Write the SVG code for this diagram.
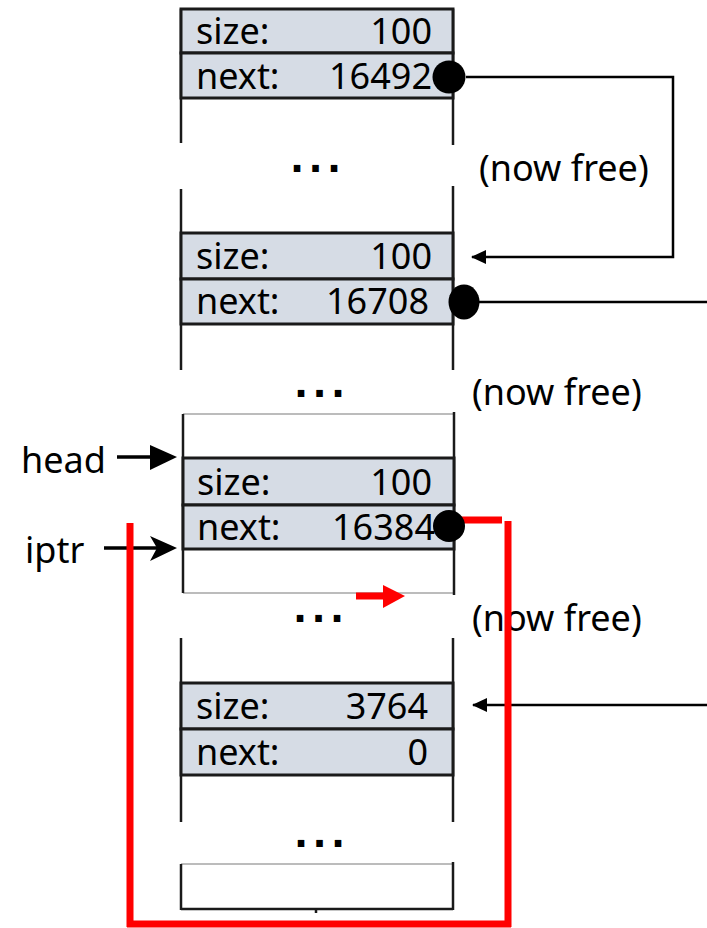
<svg xmlns="http://www.w3.org/2000/svg" width="707" height="928" viewBox="0 0 707 928">
<style>
.t{font-family:"Noto Sans","Open Sans","DejaVu Sans",sans-serif;font-size:36px;fill:#000}
.n{text-anchor:end}
.dots{font-family:"DejaVu Sans",sans-serif;font-weight:bold;font-size:37px;letter-spacing:4.5px;fill:#000}
.row{fill:#D6DCE5;stroke:#1a1a1a;stroke-width:3}
.side{stroke:#1a1a1a;stroke-width:2.5;fill:none}
.gray{stroke:#A6A6A6;stroke-width:1.5;fill:none}
.blk{stroke:#000;stroke-width:2.5;fill:none}
.red{stroke:#FF0000;stroke-width:7;fill:none}
</style>
<defs>
<marker id="ah" markerWidth="16" markerHeight="14" refX="14" refY="7" orient="auto" markerUnits="userSpaceOnUse">
<path d="M0,0 L15,7 L0,14 Z" fill="#000"/>
</marker>
</defs>

<g id="block-a">
<line class="side" x1="181" y1="9" x2="181" y2="143"/>
<line class="side" x1="453" y1="9" x2="453" y2="145"/>
<rect class="row" x="181" y="9" width="272" height="44"/>
<rect class="row" x="181" y="53" width="272" height="45"/>
<text class="t" x="196" y="44">size:</text>
<text class="t n" x="432" y="44">100</text>
<text class="t" x="196" y="89">next:</text>
<text class="t n" x="432" y="89">16492</text>
<text class="dots" x="290" y="172">...</text>
<text class="t" x="479" y="181">(now free)</text>
</g>

<g id="block-b">
<line class="side" x1="181" y1="189" x2="181" y2="370"/>
<line class="side" x1="453" y1="186" x2="453" y2="370"/>
<rect class="row" x="181" y="233" width="272" height="46"/>
<rect class="row" x="181" y="279" width="272" height="45"/>
<text class="t" x="196" y="269">size:</text>
<text class="t n" x="432" y="269">100</text>
<text class="t" x="196" y="314">next:</text>
<text class="t n" x="429" y="314">16708</text>
<text class="dots" x="294" y="397">...</text>
<text class="t" x="472" y="405">(now free)</text>
</g>

<g id="block-c">
<line class="gray" x1="183" y1="414" x2="454" y2="414"/>
<line class="gray" x1="183" y1="593" x2="454" y2="593"/>
<line class="side" x1="183" y1="414" x2="183" y2="593"/>
<line class="side" x1="454" y1="412" x2="454" y2="595"/>
<rect class="row" x="183" y="458" width="271" height="47"/>
<rect class="row" x="183" y="505" width="271" height="44"/>
<text class="t" x="197" y="495">size:</text>
<text class="t n" x="432" y="495">100</text>
<text class="t" x="197" y="540">next:</text>
<text class="t n" x="435" y="540">16384</text>
<text class="dots" x="293" y="622">...</text>
<text class="t" x="472" y="631">(now free)</text>
</g>

<g id="block-d">
<line class="side" x1="181" y1="638" x2="181" y2="822"/>
<line class="side" x1="453" y1="638" x2="453" y2="822"/>
<rect class="row" x="181" y="683" width="272" height="46"/>
<rect class="row" x="181" y="729" width="272" height="46"/>
<text class="t" x="196" y="719">size:</text>
<text class="t n" x="428" y="719">3764</text>
<text class="t" x="196" y="765">next:</text>
<text class="t n" x="428" y="765">0</text>
<text class="dots" x="294" y="847">...</text>
</g>

<g id="block-e">
<line class="gray" x1="181" y1="864" x2="453" y2="864"/>
<line class="side" x1="181" y1="864" x2="181" y2="910"/>
<line class="side" x1="453" y1="862" x2="453" y2="910"/>
<line class="side" x1="181" y1="909" x2="453" y2="909"/>
<line class="side" x1="316" y1="909" x2="316" y2="913"/>
</g>

<g id="labels">
<text class="t" x="21" y="473">head</text>
<text class="t" x="25" y="563">iptr</text>
</g>

<g id="connectors">
<path class="blk" d="M466,77 H673 V257 H472" marker-end="url(#ah)"/>
<line class="blk" x1="478" y1="302" x2="707" y2="302"/>
<line class="blk" x1="707" y1="705" x2="473" y2="705" marker-end="url(#ah)"/>
<line x1="117" y1="457" x2="152" y2="457" stroke="#000" stroke-width="3.5"/>
<path d="M150,445 L177,457 L150,470 Z" fill="#000"/>
<line x1="104" y1="548" x2="165" y2="548" stroke="#000" stroke-width="3.5"/>
<path d="M150,536 L177,548 L150,561 L157,548 Z" fill="#000"/>
<line class="red" x1="130" y1="523" x2="130" y2="927"/>
<line class="red" x1="127" y1="924" x2="511" y2="924"/>
<line class="red" x1="508" y1="521" x2="508" y2="927"/>
<line class="red" x1="460" y1="520" x2="502" y2="520"/>
<line class="red" x1="356" y1="596" x2="385" y2="596"/>
<path d="M383,585 L405,596 L383,608 Z" fill="#FF0000"/>
<circle cx="449" cy="77" r="16.5" fill="#000"/>
<ellipse cx="464" cy="302" rx="15.5" ry="17.5" fill="#000"/>
<circle cx="449" cy="526" r="16" fill="#000"/>
</g>
</svg>
